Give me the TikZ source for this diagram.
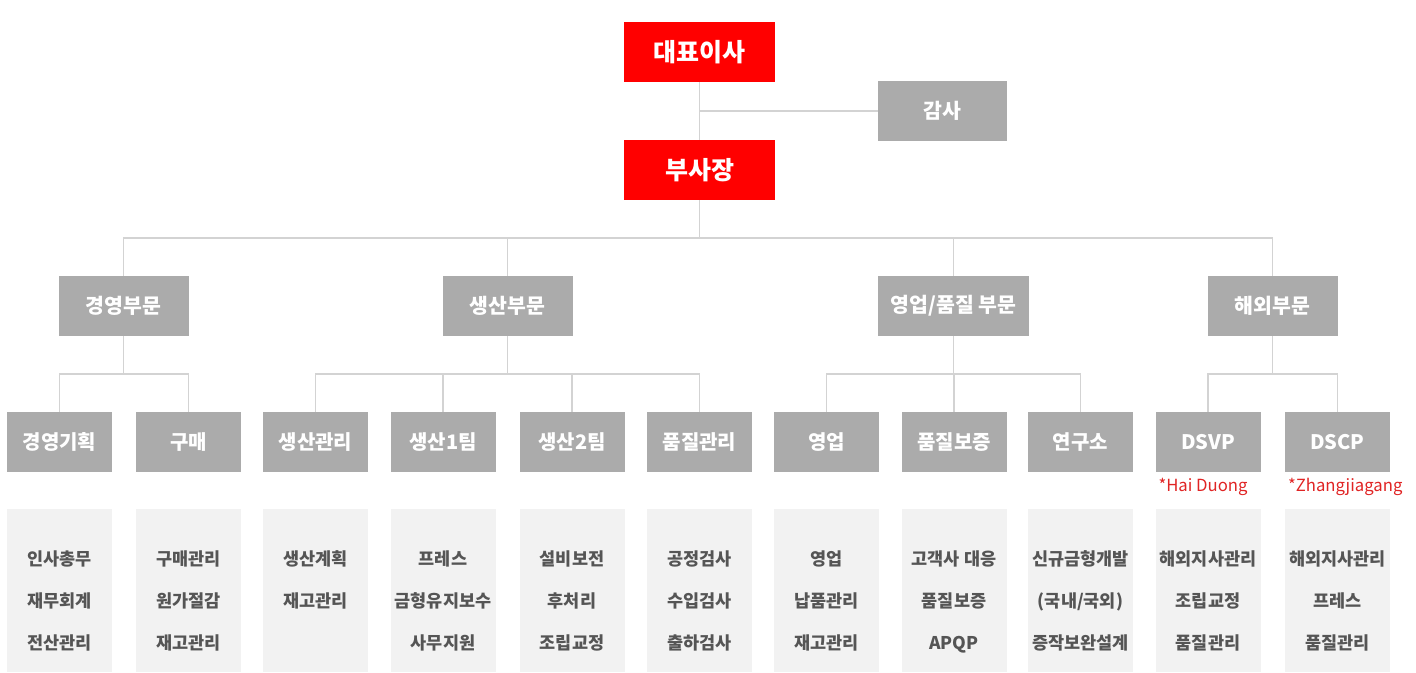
\documentclass[tikz,border=0pt]{standalone}
\usepackage{fontspec}
\setmainfont{Noto Sans CJK KR}
\usetikzlibrary{positioning}
\definecolor{bossred}{HTML}{FF0000}
\definecolor{boxgrey}{HTML}{ABABAB}
\definecolor{jobgrey}{HTML}{F2F2F2}
\definecolor{jobtext}{HTML}{555555}
\definecolor{linegrey}{HTML}{D3D3D3}
\definecolor{notered}{HTML}{E02424}
\tikzset{
  headbox/.style={fill=bossred,text=white,font=\bfseries\fontsize{25}{28}\selectfont,minimum width=151pt,minimum height=60pt,inner sep=0pt},
  divbox/.style={fill=boxgrey,text=white,font=\bfseries\fontsize{20.5}{24}\selectfont,minimum width=130pt,minimum height=60pt,inner sep=0pt},
  teambox/.style={fill=boxgrey,text=white,font=\bfseries\fontsize{20}{24}\selectfont,minimum width=105pt,minimum height=60pt,inner sep=0pt},
  jobbox/.style={fill=jobgrey,minimum width=105pt,minimum height=163pt,inner sep=0pt},
  joblist/.style={anchor=north,text=jobtext,align=center,font=\bfseries\fontsize{17.5}{41.8}\selectfont,inner sep=0pt},
  placenote/.style={anchor=north west,text=notered,font=\fontsize{16.7}{20}\selectfont,inner sep=0pt},
  link/.style={draw=linegrey,line width=1.5pt},
}
\begin{document}
\begin{tikzpicture}[x=1pt,y=-1pt]
\useasboundingbox (0,0) rectangle (1416,672);
% top
\node[headbox] (ceo) at (699.5,52) {대표이사};
\node[headbox] (vp) at (699.5,170) {부사장};
\node[divbox,minimum width=129pt] (audit) at (942.5,111) {감사};
% divisions
\node[divbox] (mgmtdiv) at (123.5,306) {경영부문};
\node[divbox] (proddiv) at (507.5,306) {생산부문};
\node[divbox,minimum width=151pt] (qualdiv) at (953.5,306) {영업/품질 부문};
\node[divbox] (abroaddiv) at (1272.5,306) {해외부문};
% teams
\node[teambox] (plan) at (59.5,442) {경영기획};
\node[teambox] (buy) at (188.5,442) {구매};
\node[teambox] (prodctl) at (315.5,442) {생산관리};
\node[teambox] (prod1) at (443,442) {생산1팀};
\node[teambox] (prod2) at (572,442) {생산2팀};
\node[teambox] (qc) at (699.5,442) {품질관리};
\node[teambox] (sales) at (826.5,442) {영업};
\node[teambox] (qa) at (954,442) {품질보증};
\node[teambox] (lab) at (1080.5,442) {연구소};
\node[teambox] (dsvp) at (1208,442) {DSVP};
\node[teambox] (dscp) at (1337.5,442) {DSCP};
\node[placenote] (hainote) at ([xshift=3pt,yshift=-6pt]dsvp.south west) {*Hai Duong};
\node[placenote] (zhangnote) at ([xshift=3pt,yshift=-6pt]dscp.south west) {*Zhangjiagang};
% jobs
\node[jobbox] (planbox) at (59.5,590.5) {};
\node[jobbox] (buybox) at (188.5,590.5) {};
\node[jobbox] (prodctlbox) at (315.5,590.5) {};
\node[jobbox] (prod1box) at (443,590.5) {};
\node[jobbox] (prod2box) at (572,590.5) {};
\node[jobbox] (qcbox) at (699.5,590.5) {};
\node[jobbox] (salesbox) at (826.5,590.5) {};
\node[jobbox] (qabox) at (954,590.5) {};
\node[jobbox] (labbox) at (1080.5,590.5) {};
\node[jobbox] (dsvpbox) at (1208,590.5) {};
\node[jobbox] (dscpbox) at (1337.5,590.5) {};
\node[joblist] (planjobs) at (59.5,550.5) {인사총무\\재무회계\\전산관리};
\node[joblist] (buyjobs) at (188.5,550.5) {구매관리\\원가절감\\재고관리};
\node[joblist] (prodctljobs) at (315.5,550.5) {생산계획\\재고관리};
\node[joblist] (prod1jobs) at (443,550.5) {프레스\\금형유지보수\\사무지원};
\node[joblist] (prod2jobs) at (572,550.5) {설비보전\\후처리\\조립교정};
\node[joblist] (qcjobs) at (699.5,550.5) {공정검사\\수입검사\\출하검사};
\node[joblist] (salesjobs) at (826.5,550.5) {영업\\납품관리\\재고관리};
\node[joblist] (qajobs) at (954,550.5) {고객사 대응\\품질보증\\APQP};
\node[joblist] (labjobs) at (1080.5,550.5) {신규금형개발\\(국내/국외)\\증작보완설계};
\node[joblist] (dsvpjobs) at (1208,550.5) {해외지사관리\\조립교정\\품질관리};
\node[joblist] (dscpjobs) at (1337.5,550.5) {해외지사관리\\프레스\\품질관리};
% lines
\draw[link] (ceo.south) -- (vp.north);
\draw[link] (ceo.south |- audit.west) -- (audit.west);
\coordinate (topbus) at (699.5,238);
\draw[link] (vp.south) -- (topbus);
\draw[link] (mgmtdiv.north) |- (topbus) -| (abroaddiv.north);
\draw[link] (proddiv.north) -- (proddiv.north |- topbus);
\draw[link] (qualdiv.north) -- (qualdiv.north |- topbus);
\coordinate (mgmtbus) at (123.5,374);
\draw[link] (mgmtdiv.south) -- (mgmtbus);
\draw[link] (plan.north) |- (mgmtbus) -| (buy.north);
\coordinate (prodbus) at (507.5,374);
\draw[link] (proddiv.south) -- (prodbus);
\draw[link] (prodctl.north) |- (prodbus) -| (qc.north);
\draw[link] (prod1.north) -- (prod1.north |- prodbus);
\draw[link] (prod2.north) -- (prod2.north |- prodbus);
\coordinate (qualbus) at (953.5,374);
\draw[link] (qualdiv.south) -- (qualbus);
\draw[link] (sales.north) |- (qualbus) -| (lab.north);
\draw[link] (qa.north) -- (qa.north |- qualbus);
\coordinate (abroadbus) at (1272.5,374);
\draw[link] (abroaddiv.south) -- (abroadbus);
\draw[link] (dsvp.north) |- (abroadbus) -| (dscp.north);
\end{tikzpicture}
\end{document}
